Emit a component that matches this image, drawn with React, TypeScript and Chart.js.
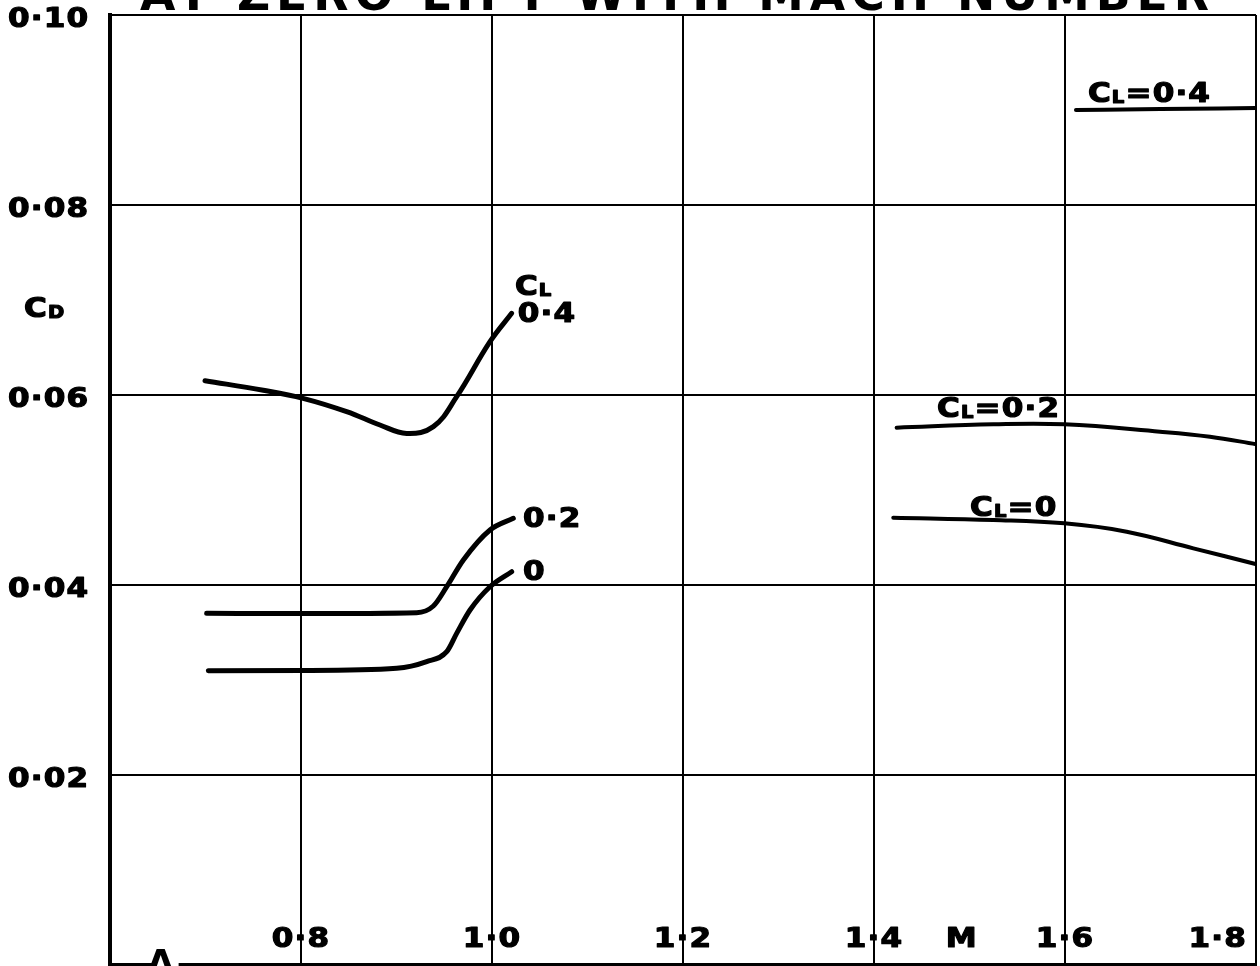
import React, { useEffect, useRef } from "react";
import { Chart, registerables } from "chart.js";

Chart.register(...registerables);

// ---- data (Mach number vs drag coefficient) ----
const machLowCL04 = [0.6995, 0.7605, 0.8021, 0.8478, 0.8827, 0.9107, 0.9386, 0.963, 0.9979, 1.0206];
const cdLowCL04 = [0.0615, 0.0605, 0.05965, 0.05825, 0.05684, 0.05596, 0.05667, 0.05982, 0.06561, 0.0686];

const machLowCL02 = [0.7012, 0.8024, 0.9211, 0.9386, 0.9526, 0.97, 0.9979, 1.0223];
const cdLowCL02 = [0.03702, 0.037, 0.03709, 0.03779, 0.03982, 0.04263, 0.04579, 0.04702];

const machLowCL0 = [0.703, 0.8024, 0.9002, 0.9316, 0.9526, 0.963, 0.977, 0.9979, 1.0206];
const cdLowCL0 = [0.03098, 0.031, 0.03123, 0.03193, 0.03298, 0.03491, 0.03737, 0.03982, 0.0414];

const machHighCL04 = [1.6115, 1.7, 1.8];
const cdHighCL04 = [0.09, 0.0901, 0.0902];

const machHighCL02 = [1.4237, 1.525, 1.5993, 1.6995, 1.7518, 1.8007];
const cdHighCL02 = [0.05656, 0.05691, 0.05691, 0.05614, 0.05561, 0.05481];

const machHighCL0 = [1.4202, 1.525, 1.5993, 1.6646, 1.7344, 1.8007];
const cdHighCL0 = [0.04709, 0.04684, 0.04649, 0.04561, 0.04386, 0.04218];

const xTickValues = [0.8, 1.0, 1.2, 1.4, 1.6, 1.8];
const xTickLabels = ["0·8", "1·0", "1·2", "1·4", "1·6", "1·8"];
const yTickValues = [0.02, 0.04, 0.06, 0.08, 0.1];
const yTickLabels = ["0·02", "0·04", "0·06", "0·08", "0·10"];

const titleText = "AT ZERO LIFT WITH MACH NUMBER";
const xAxisName = "M";

// ---- drawing helpers ----
const FONT = '"DejaVu Sans", "Liberation Sans", sans-serif';
const SX = 1.15;
const LS = "1px";

type Part = { t: string; sub?: boolean };

function drawRich(
  ctx: CanvasRenderingContext2D,
  parts: Part[],
  x: number,
  cy: number,
  size: number,
  align: "left" | "center" | "right"
) {
  ctx.save();
  (ctx as any).letterSpacing = LS;
  ctx.textAlign = "left";
  ctx.textBaseline = "alphabetic";
  ctx.fillStyle = "#000";
  ctx.strokeStyle = "#000";
  ctx.lineWidth = 1.2;
  ctx.lineJoin = "round";
  const m = parts.map((p) => {
    const s = p.sub ? Math.round(size * 0.62) : size;
    ctx.font = `bold ${s}px ${FONT}`;
    return { p, s, w: ctx.measureText(p.t).width };
  });
  const total = m.reduce((a, b) => a + b.w, 0) * SX;
  const start = align === "center" ? x - total / 2 : align === "right" ? x - total : x;
  const baseline = cy + size * 0.36;
  ctx.translate(start, baseline);
  ctx.scale(SX, 1);
  let cx = 0;
  for (const it of m) {
    ctx.font = `bold ${it.s}px ${FONT}`;
    const dy = it.p.sub ? 1 : 0;
    ctx.fillText(it.p.t, cx, dy);
    ctx.strokeText(it.p.t, cx, dy);
    cx += it.w;
  }
  ctx.restore();
}

function textWidth(ctx: CanvasRenderingContext2D, t: string, size: number) {
  ctx.save();
  (ctx as any).letterSpacing = LS;
  ctx.font = `bold ${size}px ${FONT}`;
  const w = ctx.measureText(t).width * SX;
  ctx.restore();
  return w;
}

const C_L: Part[] = [{ t: "C" }, { t: "L", sub: true }];

// label anchors (data coordinates of label left edge / vertical centre)
const curveLabels: { parts: Part[]; m: number; cd: number; align: "left" | "center" }[] = [
  { parts: C_L, m: 1.024, cd: 0.0716, align: "left" },
  { parts: [{ t: "0·4" }], m: 1.027, cd: 0.0687, align: "left" },
  { parts: [{ t: "0·2" }], m: 1.0325, cd: 0.0471, align: "left" },
  { parts: [{ t: "0" }], m: 1.0325, cd: 0.0416, align: "left" },
  { parts: [...C_L, { t: "=0·4" }], m: 1.624, cd: 0.0919, align: "left" },
  { parts: [...C_L, { t: "=0·2" }], m: 1.466, cd: 0.0587, align: "left" },
  { parts: [...C_L, { t: "=0" }], m: 1.5005, cd: 0.0483, align: "left" },
  { parts: [{ t: "C" }, { t: "D", sub: true }], m: 0.51, cd: 0.0692, align: "left" },
];

const textPlugin = {
  id: "textPlugin",
  afterDraw(chart: any) {
    const ctx: CanvasRenderingContext2D = chart.ctx;
    const xs = chart.scales.x;
    const ys = chart.scales.y;
    const area = chart.chartArea;
    const size = 27;

    // y tick labels
    yTickValues.forEach((v, i) => {
      drawRich(ctx, [{ t: yTickLabels[i] }], 8, ys.getPixelForValue(v) + 2, size, "left");
    });

    // x tick labels: middle dot sits on the grid line
    const cy = area.bottom - 28;
    xTickValues.forEach((v, i) => {
      const lab = xTickLabels[i];
      const px = xs.getPixelForValue(v);
      if (i === xTickValues.length - 1) {
        drawRich(ctx, [{ t: lab }], area.right - 9, cy, size, "right");
      } else {
        const pre = textWidth(ctx, lab.split("·")[0], size);
        const dot = textWidth(ctx, "·", size);
        drawRich(ctx, [{ t: lab }], px - pre - dot / 2, cy, size, "left");
      }
    });

    // axis name M
    drawRich(ctx, [{ t: xAxisName }], xs.getPixelForValue(1.492), cy, size, "center");

    // curve labels
    curveLabels.forEach((l) => {
      drawRich(ctx, l.parts, xs.getPixelForValue(l.m), ys.getPixelForValue(l.cd), size, l.align);
    });

    // clipped title at the top
    ctx.save();
    ctx.font = `bold 46px ${FONT}`;
    (ctx as any).letterSpacing = "6px";
    const tw = ctx.measureText(titleText).width;
    ctx.translate(140, 10);
    ctx.scale(1075 / tw, 1);
    ctx.fillStyle = "#000";
    ctx.textBaseline = "alphabetic";
    ctx.fillText(titleText, 0, 0);
    ctx.restore();

    // clipped mark at the bottom left (breaks the bottom border)
    ctx.save();
    const mx = xs.getPixelForValue(0.653);
    ctx.fillStyle = "#fff";
    ctx.fillRect(mx - 4, area.bottom - 3, 22, 6);
    ctx.font = `bold 36px ${FONT}`;
    ctx.textAlign = "center";
    ctx.fillStyle = "#000";
    ctx.fillText("Λ", mx, area.bottom + 10);
    ctx.restore();
  },
};

function pts(xs: number[], ys: number[]) {
  return xs.map((x, i) => ({ x, y: ys[i] }));
}

export default function App() {
  const ref = useRef<HTMLCanvasElement | null>(null);

  useEffect(() => {
    if (!ref.current) return;
    const line = (data: { x: number; y: number }[], w: number, smooth: "monotone" | "tension") => ({
      data,
      showLine: true,
      borderColor: "#000",
      backgroundColor: "#000",
      borderWidth: w,
      pointRadius: 0,
      ...(smooth === "monotone"
        ? { cubicInterpolationMode: "monotone" as const }
        : { tension: 0.4 }),
      borderCapStyle: "round" as const,
      borderJoinStyle: "round" as const,
    });
    const chart = new Chart(ref.current, {
      type: "scatter",
      data: {
        datasets: [
          line(pts(machLowCL04, cdLowCL04), 5, "tension"),
          line(pts(machLowCL02, cdLowCL02), 5, "monotone"),
          line(pts(machLowCL0, cdLowCL0), 5, "monotone"),
          line(pts(machHighCL04, cdHighCL04), 4, "monotone"),
          line(pts(machHighCL02, cdHighCL02), 4, "tension"),
          line(pts(machHighCL0, cdHighCL0), 4, "tension"),
        ],
      },
      options: {
        responsive: false,
        animation: false,
        devicePixelRatio: 1,
        layout: { padding: { left: 110, top: 15, right: 4, bottom: 1 } },
        plugins: { legend: { display: false }, tooltip: { enabled: false } },
        scales: {
          x: {
            type: "linear",
            min: 0.6,
            max: 1.8,
            ticks: { stepSize: 0.2, display: false },
            grid: { color: "#000", lineWidth: 2, drawTicks: false },
            border: { color: "#000", width: 4 },
          },
          y: {
            type: "linear",
            min: 0,
            max: 0.1,
            ticks: { stepSize: 0.02, display: false },
            grid: { color: "#000", lineWidth: 2, drawTicks: false },
            border: { color: "#000", width: 4 },
          },
        },
      },
      plugins: [textPlugin],
    });
    return () => chart.destroy();
  }, []);

  return (
    <div style={{ position: "absolute", left: 0, top: 0, width: 1260, height: 966, background: "#fff" }}>
      <canvas ref={ref} width={1260} height={966} style={{ display: "block" }} />
    </div>
  );
}
